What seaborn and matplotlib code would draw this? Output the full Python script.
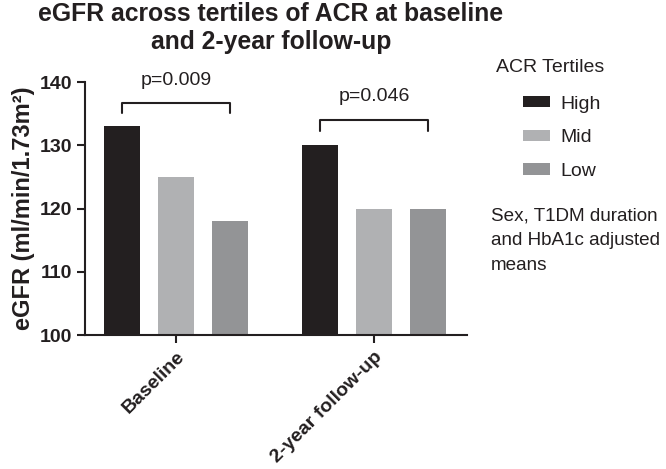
import matplotlib
matplotlib.use('Agg')
from matplotlib import pyplot as plt
from matplotlib.patches import Patch
import seaborn as sns
import pandas as pd

# --- data ---
timepoints = ['Baseline', '2-year follow-up']
tertiles = ['High', 'Mid', 'Low']
egfr_high = [133, 130]
egfr_mid = [125, 120]
egfr_low = [118, 120]
p_values = ['p=0.009', 'p=0.046']
colors = ['#231f20', '#b0b1b3', '#939496']

sns.set_style('ticks')
plt.rcParams['font.family'] = ['Liberation Sans', 'DejaVu Sans']

df = pd.DataFrame({
    'time': timepoints * 3,
    'tertile': [t for t in tertiles for _ in timepoints],
    'egfr': egfr_high + egfr_mid + egfr_low,
})

fig = plt.figure(figsize=(6.66, 4.69), dpi=100)
ax = fig.add_axes([0.1276, 0.2857, 0.5736, 0.5393])

sns.barplot(data=df, x='time', y='egfr', hue='tertile', order=timepoints,
            hue_order=tertiles, palette=colors, width=0.82, gap=0.33,
            saturation=1, legend=False, linewidth=0, ax=ax)

ax.set_ylim(100, 140)
ax.set_xlim(-0.46, 1.47)
ax.set_yticks([100, 110, 120, 130, 140])
ax.set_xlabel('')
ax.set_ylabel('eGFR (ml/min/1.73m²)', fontsize=17, fontweight='bold', labelpad=3,
              color='#231f20')
for lab in ax.get_yticklabels():
    lab.set_fontweight('bold')
    lab.set_fontsize(14)
ax.set_xticks(range(len(timepoints)))
ax.set_xticklabels(timepoints, rotation=45, ha='right', rotation_mode='anchor',
                   fontsize=14, fontweight='bold')
sns.despine(ax=ax)
for s in ['left', 'bottom']:
    ax.spines[s].set_linewidth(1.5)
    ax.spines[s].set_color('#231f20')
ax.tick_params(width=1.5, length=6, color='#231f20', labelcolor='#231f20')

# significance brackets
off = 0.82 / 3
brackets = [(0, 136.7, 135.1, 139.5), (1, 134.0, 132.3, 137.0)]
for (xc, ytop, yleg, ytxt), p in zip(brackets, p_values):
    x0, x1 = xc - off, xc + off
    ax.plot([x0, x0, x1, x1], [yleg, ytop, ytop, yleg], color='#231f20', lw=1.5,
            clip_on=False)
    ax.text(xc, ytxt, p, ha='center', va='baseline', fontsize=14, color='#231f20')

fig.text(0.407, 0.995, 'eGFR across tertiles of ACR at baseline\nand 2-year follow-up',
         ha='center', va='top', fontsize=17.8, fontweight='bold', linespacing=1.2,
         color='#231f20')

# legend
fig.text(496 / 666, 1 - 67 / 469, 'ACR Tertiles', ha='left', va='center',
         fontsize=14, color='#231f20')
handles = [Patch(facecolor=c, edgecolor='none') for c in colors]
leg = fig.legend(handles, tertiles, loc='upper left',
                 bbox_to_anchor=(505 / 666, 1 - 78 / 469), frameon=False, fontsize=14,
                 handlelength=1.4, handleheight=0.52, labelspacing=0.86,
                 handletextpad=0.55)
for t in leg.get_texts():
    t.set_color('#231f20')

fig.text(491 / 666, 1 - 207 / 469, 'Sex, T1DM duration\nand HbA1c adjusted\nmeans',
         ha='left', va='top', fontsize=13.6, linespacing=1.6, color='#231f20')

fig.savefig('out.png', dpi=100)
